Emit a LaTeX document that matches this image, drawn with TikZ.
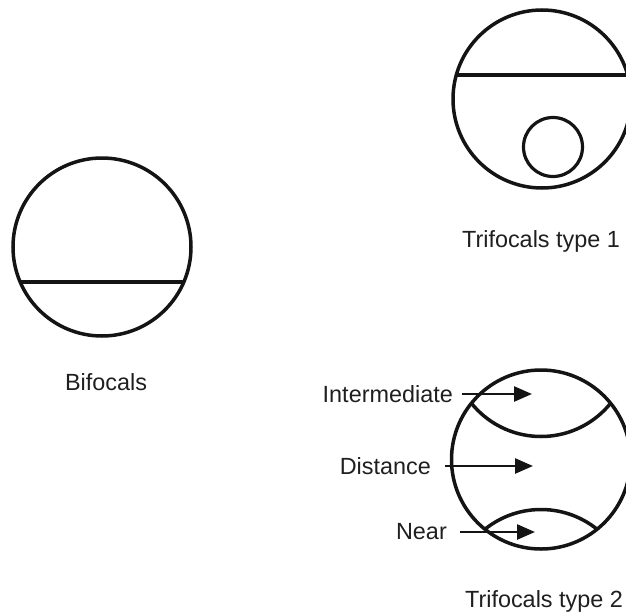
\documentclass[tikz,border=0pt]{standalone}
\usepackage{fontspec}
\setmainfont{Liberation Sans}
\usetikzlibrary{arrows.meta}

\begin{document}
\begin{tikzpicture}[
		x=1pt, y=-1pt,
		line cap=round,
		font=\fontsize{23.4pt}{28pt}\selectfont,
		lens/.style={line width=3.5pt, black!92},
		seg/.style={line width=4.2pt, black!92, line cap=butt},
		pointer/.style={line width=2.5pt, black!92, line cap=butt, -{Triangle[length=18pt, width=15pt]}},
		lbl/.style={inner sep=0pt, text=black!88},
	]
		\useasboundingbox (0,0) rectangle (626,613);

		\coordinate (bi) at (102,247);
		\coordinate (triA) at (542,99);
		\coordinate (triB) at (541,459.5);

		\draw[lens] (bi) circle (89pt);
		\draw[seg] (20.4,282) -- (183.6,282);
		\node[lbl, anchor=base] (bilbl) at (106,390) {Bifocals};

		\draw[lens] (triA) circle (89pt);
		\draw[seg] (456.3,75) -- (627.7,75);
		\draw[line width=3.2pt, black!92] (553,147) circle (29.5pt);
		\node[lbl, anchor=base] (trialbl) at (541,247) {Trifocals type 1};

		\draw[lens] (triB) circle (89.5pt);
		\begin{scope}
			\clip (triB) circle (89.5pt);
			\draw[lens] (541,347) circle (89.5pt);
			\draw[lens] (541,599) circle (89.5pt);
		\end{scope}
		\node[lbl, anchor=base] (triblbl) at (544,607) {Trifocals type 2};

		\coordinate (tipI) at (532,394);
		\coordinate (tipD) at (533,466);
		\coordinate (tipN) at (535,532);
		\node[lbl, anchor=east] (inter) at (453,394) {Intermediate};
		\node[lbl, anchor=east] (dist) at (431,466) {Distance};
		\node[lbl, anchor=east] (near) at (447,532) {Near};
		\draw[pointer] ([xshift=9pt]inter.east) -- (tipI);
		\draw[pointer] ([xshift=14pt]dist.east) -- (tipD);
		\draw[pointer] ([xshift=13pt]near.east) -- (tipN);
	\end{tikzpicture}
\end{document}
